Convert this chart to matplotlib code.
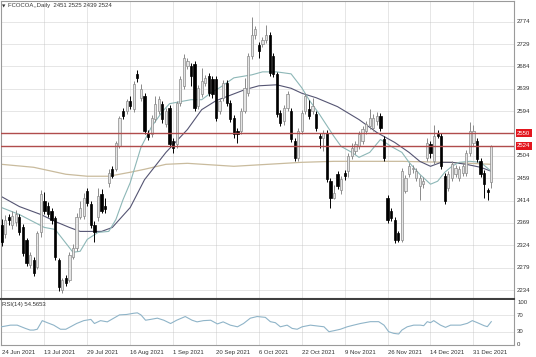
import matplotlib
matplotlib.use('Agg')
import matplotlib.pyplot as plt
from matplotlib.transforms import blended_transform_factory

plt.rcParams['font.family'] = ['Liberation Sans', 'DejaVu Sans']

# ---------------- data ----------------
opens = [2364, 2347, 2380, 2364, 2370, 2380, 2360, 2334, 2284, 2294,
         2280, 2350, 2414, 2404, 2394, 2378, 2294, 2234, 2258, 2254,
         2300, 2318, 2380, 2384, 2434, 2408, 2364, 2380, 2428, 2404,
         2450, 2478, 2478, 2524, 2594, 2594, 2614, 2598, 2668, 2620,
         2624, 2550, 2548, 2578, 2594, 2608, 2568, 2600, 2534, 2528,
         2610, 2644, 2684, 2684, 2688, 2604, 2628, 2650, 2664, 2658,
         2658, 2594, 2620, 2650, 2610, 2580, 2554, 2554, 2594, 2630,
         2704, 2748, 2728, 2730, 2738, 2748, 2704, 2668, 2590, 2574,
         2600, 2594, 2534, 2500, 2554, 2594, 2598, 2594, 2588, 2544,
         2540, 2550, 2454, 2420, 2468, 2436, 2470, 2474, 2504, 2514,
         2524, 2534, 2554, 2564, 2560, 2574, 2584, 2538, 2420, 2394,
         2374, 2348, 2334, 2434, 2468, 2478, 2460, 2444, 2448, 2500,
         2528, 2494, 2548, 2544, 2464, 2440, 2460, 2468, 2460, 2470,
         2470, 2510, 2530, 2534, 2494, 2470, 2436, 2451]
highs = [2376, 2386, 2388, 2394, 2396, 2388, 2366, 2338, 2310, 2300,
         2352, 2436, 2432, 2412, 2400, 2384, 2298, 2258, 2264, 2310,
         2326, 2390, 2414, 2430, 2440, 2414, 2372, 2440, 2438, 2420,
         2478, 2484, 2534, 2584, 2600, 2618, 2624, 2654, 2676, 2648,
         2630, 2556, 2586, 2624, 2624, 2614, 2600, 2606, 2540, 2614,
         2664, 2708, 2700, 2690, 2694, 2646, 2680, 2666, 2670, 2664,
         2664, 2620, 2656, 2656, 2616, 2586, 2560, 2600, 2660, 2710,
         2784, 2766, 2734, 2744, 2768, 2754, 2710, 2672, 2596, 2606,
         2634, 2600, 2540, 2560, 2596, 2630, 2616, 2620, 2594, 2550,
         2556, 2556, 2460, 2446, 2474, 2464, 2476, 2510, 2530, 2534,
         2554, 2564, 2574, 2598, 2588, 2592, 2590, 2544, 2426, 2400,
         2380, 2352, 2480, 2466, 2490, 2486, 2480, 2466, 2462, 2540,
         2534, 2566, 2556, 2550, 2470, 2474, 2494, 2486, 2484, 2490,
         2516, 2572, 2566, 2540, 2500, 2476, 2440, 2525]
lows = [2322, 2338, 2364, 2356, 2362, 2344, 2302, 2282, 2278, 2262,
        2276, 2340, 2388, 2380, 2366, 2294, 2232, 2228, 2242, 2250,
        2296, 2312, 2376, 2376, 2404, 2358, 2330, 2372, 2390, 2390,
        2442, 2460, 2474, 2520, 2578, 2588, 2598, 2592, 2652, 2614,
        2548, 2536, 2542, 2572, 2588, 2570, 2562, 2522, 2510, 2520,
        2604, 2638, 2678, 2644, 2594, 2598, 2622, 2644, 2624, 2620,
        2574, 2588, 2614, 2604, 2572, 2540, 2530, 2548, 2590, 2624,
        2698, 2740, 2700, 2724, 2732, 2664, 2662, 2582, 2564, 2566,
        2594, 2532, 2494, 2494, 2548, 2588, 2578, 2588, 2554, 2520,
        2514, 2452, 2400, 2418, 2438, 2428, 2456, 2462, 2498, 2508,
        2518, 2528, 2548, 2558, 2554, 2566, 2554, 2494, 2368, 2372,
        2328, 2330, 2330, 2430, 2462, 2470, 2454, 2416, 2440, 2494,
        2500, 2488, 2540, 2478, 2408, 2434, 2454, 2462, 2454, 2464,
        2464, 2504, 2524, 2492, 2462, 2420, 2416, 2439]
closes = [2330, 2374, 2374, 2384, 2388, 2350, 2308, 2288, 2304, 2268,
          2348, 2428, 2394, 2388, 2374, 2300, 2240, 2254, 2248, 2304,
          2318, 2380, 2400, 2420, 2410, 2364, 2350, 2424, 2394, 2398,
          2470, 2464, 2530, 2580, 2584, 2614, 2604, 2648, 2660, 2638,
          2554, 2542, 2580, 2608, 2618, 2578, 2594, 2528, 2520, 2610,
          2658, 2700, 2694, 2664, 2600, 2640, 2654, 2660, 2630, 2628,
          2580, 2614, 2650, 2610, 2578, 2548, 2548, 2594, 2640, 2704,
          2748, 2760, 2714, 2738, 2748, 2670, 2668, 2588, 2570, 2600,
          2628, 2538, 2500, 2554, 2590, 2624, 2584, 2604, 2560, 2540,
          2550, 2458, 2420, 2430, 2444, 2458, 2464, 2504, 2520, 2528,
          2548, 2558, 2568, 2580, 2580, 2584, 2560, 2500, 2374, 2378,
          2334, 2334, 2474, 2460, 2484, 2480, 2474, 2460, 2454, 2530,
          2510, 2544, 2544, 2484, 2414, 2468, 2488, 2480, 2478, 2484,
          2510, 2554, 2554, 2498, 2468, 2448, 2432, 2524]

ma_fast_idx = [0, 5, 12, 15, 20, 22, 24, 27, 30, 32, 34, 36, 39, 42, 45, 47, 50, 53,
               56, 59, 61, 65, 70, 73, 77, 81, 84, 86, 89, 93, 95, 98, 100, 103, 106,
               109, 112, 114, 117, 120, 122, 124, 126, 128, 131, 134, 137]
ma_fast_val = [2400, 2386, 2360, 2356, 2310, 2312, 2336, 2350, 2352, 2376, 2416, 2450,
               2521, 2563, 2593, 2609, 2613, 2617, 2617, 2633, 2641, 2661, 2667, 2673,
               2673, 2669, 2641, 2617, 2587, 2543, 2523, 2511, 2501, 2511, 2537, 2523,
               2511, 2491, 2467, 2447, 2453, 2471, 2483, 2491, 2493, 2491, 2473]

ma_slow_idx = [0, 5, 11, 15, 19, 22, 28, 31, 33, 36, 40, 46, 52, 56, 60, 68, 72, 77,
               81, 84, 88, 94, 100, 105, 110, 114, 117, 120, 123, 126, 130, 134, 137]
ma_slow_val = [2422, 2402, 2386, 2372, 2360, 2352, 2352, 2360, 2376, 2400, 2456, 2511,
               2557, 2597, 2615, 2637, 2645, 2647, 2640, 2630, 2621, 2603, 2577, 2551,
               2531, 2511, 2493, 2483, 2491, 2491, 2487, 2481, 2473]

ma200_idx = [0, 9, 18, 24, 30, 36, 40, 46, 52, 65, 84, 93, 112, 125, 137]
ma200_val = [2487, 2481, 2467, 2463, 2463, 2471, 2477, 2487, 2489, 2483, 2491, 2493,
             2493, 2491, 2487]

rsi_idx = [0, 2.5, 4.4, 6.7, 8, 9, 10, 11.4, 12.8, 14.6, 16.5, 18, 19.3, 21, 23, 25, 26,
           27.7, 29.6, 31.4, 33, 35, 37, 38, 39, 40.3, 41.7, 43.6, 45.4, 47.3, 49, 51.4,
           53.3, 54.7, 56.5, 58.5, 60.4, 62, 64, 66, 67.7, 69.6, 71.5, 73.8, 75.2, 76.6,
           78, 79.9, 81.3, 82.7, 84.1, 86.4, 88.3, 90.2, 91.6, 93, 94.8, 96.7, 98.5,
           100.4, 103.2, 105.5, 107, 108.3, 109.7, 111.1, 112, 113.5, 115.3, 117.2,
           118.1, 119.1, 120, 120.9, 122.8, 124.2, 125.6, 128.4, 130.3, 131.7, 133.1,
           135, 135.9, 137]
rsi_val = [42, 46, 46, 38, 34, 34, 36, 57, 52, 46, 36, 36, 42, 50, 57, 60, 50,
           57, 54, 63, 71, 72, 75, 76, 71, 58, 60, 63, 58, 50, 58, 67,
           58, 54, 57, 58, 49, 54, 46, 42, 50, 63, 67, 65, 54.5, 52,
           42, 46, 38, 36, 42, 46, 44, 42, 30, 32.5, 36, 42, 46,
           50, 54.5, 54.5, 46, 30, 26, 24.4, 34, 42, 46, 46,
           44.7, 54.5, 52, 57, 46, 40.6, 46, 46, 50.4, 57, 52,
           44.7, 42.3, 54.57]

date_labels = ['24 Jun 2021', '13 Jul 2021', '29 Jul 2021', '16 Aug 2021', '1 Sep 2021',
               '20 Sep 2021', '6 Oct 2021', '22 Oct 2021', '9 Nov 2021', '26 Nov 2021',
               '14 Dec 2021', '31 Dec 2021']
date_idx = [0, 12, 24, 36, 48, 60, 72, 84, 96, 108, 120, 132]
price_grid = [2234, 2279, 2324, 2369, 2414, 2459, 2504, 2549, 2594, 2639, 2684, 2729, 2774]
price_labels = [2234, 2279, 2324, 2369, 2414, 2459, 2504, 2594, 2639, 2684, 2729, 2774]
level_lines = [2550, 2524]
rsi_levels = [70, 30]
rsi_labels = [100, 70, 30, 0]

title_text = 'FCOCOA,,Daily  2451 2525 2439 2524'
rsi_text = 'RSI(14) 54.5653'

# ---------------- figure ----------------
W, H = 536, 357
fig = plt.figure(figsize=(W / 100, H / 100), dpi=100)
fig.patch.set_facecolor('white')

ax = fig.add_axes([1 / W, (H - 299) / H, 513 / W, 298 / H])
axr = fig.add_axes([1 / W, (H - 345) / H, 513 / W, 45 / H])

step = 3.575
x0 = 1.5
xl = ((1 - x0) / step, (514 - x0) / step)
for a in (ax, axr):
    a.set_xlim(*xl)
    a.set_xticks([])
    a.set_yticks([])
    a.set_facecolor('white')
    for s in a.spines.values():
        s.set_color('#9a9a9a')
        s.set_linewidth(0.8)
ax.set_ylim(2216, 2815.6)
axr.set_ylim(-2.4, 107.3)
ax.spines['bottom'].set_color('#404040')
ax.spines['bottom'].set_linewidth(1.5)
axr.spines['top'].set_visible(False)

grid_kw = dict(color='#c4c4c4', linewidth=0.6, linestyle=(0, (1.2, 1.2)), zorder=0)
for p in price_grid:
    ax.axhline(p, **grid_kw)
for i in date_idx[1:]:
    ax.axvline(i, **grid_kw)
    axr.axvline(i, **grid_kw)
for lv in rsi_levels:
    axr.axhline(lv, **grid_kw)

# moving averages
ax.plot(ma200_idx, ma200_val, color='#c9bb9d', linewidth=0.9, zorder=2)
ax.plot(ma_slow_idx, ma_slow_val, color='#555573', linewidth=0.8, zorder=2)
ax.plot(ma_fast_idx, ma_fast_val, color='#8db7b7', linewidth=0.8, zorder=2)

# candles
bw = 0.62
for i, (o, h, l, c) in enumerate(zip(opens, highs, lows, closes)):
    bull = c >= o
    col = '#8a8a8a' if bull else '#000000'
    ax.vlines(i, l, h, color=col, linewidth=0.7, zorder=3)
    lo, hi = min(o, c), max(o, c)
    hgt = max(hi - lo, 1.5)
    ax.bar(i, hgt, bottom=lo, width=bw, color='#e4e4e4' if bull else '#000000',
           edgecolor=col, linewidth=0.5, zorder=4)

# horizontal level lines
for lv in level_lines:
    ax.axhline(lv, color='#b04c4c', linewidth=1.0, zorder=5)

# RSI
axr.plot(rsi_idx, rsi_val, color='#8fb4c8', linewidth=0.8, zorder=3)

# right-side labels
fs = 4.3
tr = blended_transform_factory(ax.transAxes, ax.transData)
for p in price_labels:
    ax.text(1.006, p, str(p), transform=tr, fontsize=fs, color='#333333',
            va='center', ha='left', clip_on=False)
for lv in level_lines:
    ax.text(1.006, lv, str(lv), transform=tr, fontsize=fs, color='white',
            va='center', ha='left', clip_on=False,
            bbox=dict(boxstyle='square,pad=0.25', fc='#e3161e', ec='none'))
trr = blended_transform_factory(axr.transAxes, axr.transData)
for v in rsi_labels:
    axr.text(1.006, v, str(v), transform=trr, fontsize=fs, color='#333333',
             va='center', ha='left', clip_on=False)

# date labels
trd = blended_transform_factory(axr.transData, axr.transAxes)
for i, lab in zip(date_idx, date_labels):
    axr.text(i, -0.16, lab, transform=trd, fontsize=fs, color='#333333',
             va='center', ha='left', clip_on=False)

# titles
fig.text(2 / W, 1 - 6 / H, '\u25bc', fontsize=3.2, color='#333333', va='center', ha='left',
         family=['DejaVu Sans'])
fig.text(8 / W, 1 - 6 / H, title_text, fontsize=fs, color='#333333', va='center', ha='left')
fig.text(2 / W, 1 - 304.5 / H, rsi_text, fontsize=fs, color='#333333', va='center', ha='left')

fig.savefig('out.png', dpi=100, facecolor='white')
